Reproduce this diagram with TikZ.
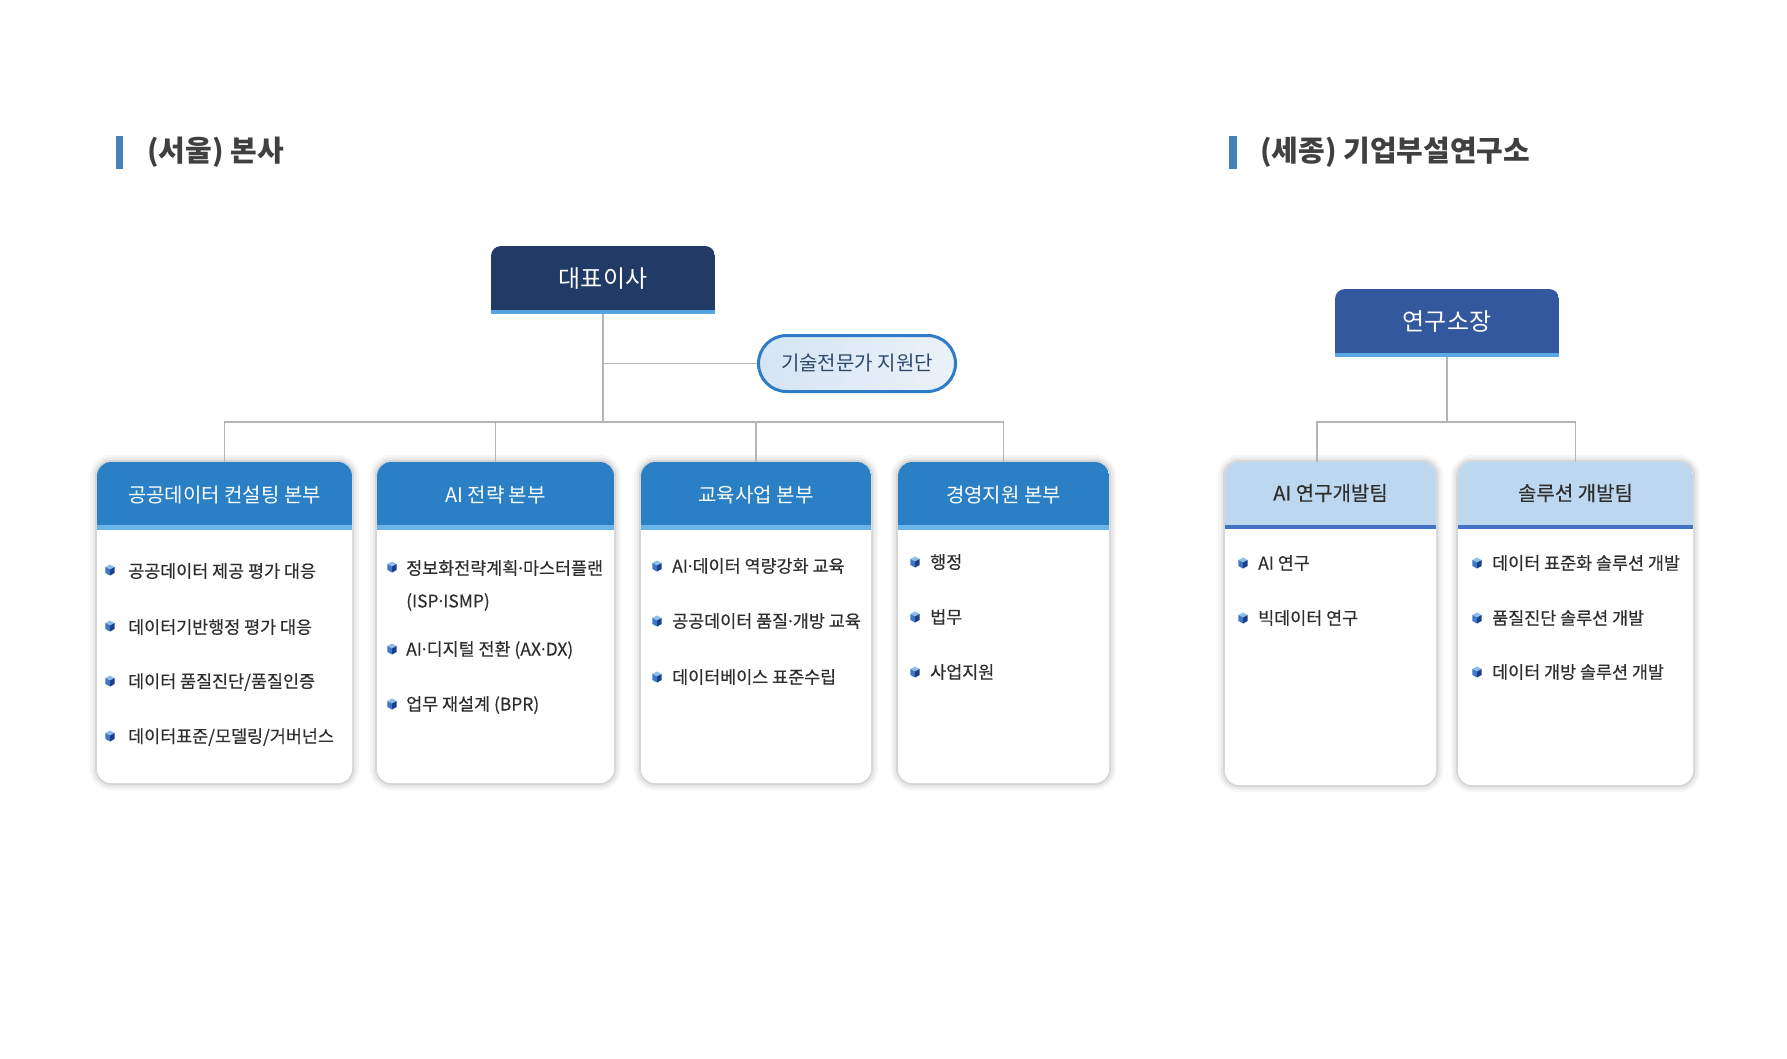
\documentclass[tikz,border=0pt]{standalone}
\usepackage{fontspec}
\setmainfont{Noto Sans CJK KR}
\newfontfamily\medfont{Noto Sans CJK KR}[FakeBold=0.35]
\newcommand\mdot{\kern-2.5pt·\kern-2.5pt}
\definecolor{ceofill}{HTML}{213A66}
\definecolor{ceostripe}{HTML}{55A5E3}
\definecolor{labfill}{HTML}{33589E}
\definecolor{labstripe}{HTML}{5BA8E8}
\definecolor{hdrblue}{HTML}{2B80C5}
\definecolor{hdrstripe}{HTML}{6AB4EC}
\definecolor{teamhdr}{HTML}{BDD7EE}
\definecolor{teamstripe}{HTML}{4472C4}
\definecolor{pillborder}{HTML}{2E7BC8}
\definecolor{pillleft}{HTML}{D5E5F4}
\definecolor{pillright}{HTML}{EBF2F9}
\definecolor{pilltext}{HTML}{2E4A6B}
\definecolor{titlebar}{HTML}{4682BA}
\definecolor{titletext}{HTML}{404040}
\definecolor{txt}{HTML}{2E2E2E}
\definecolor{lineg}{HTML}{B5B5B5}
\definecolor{cubetop}{HTML}{8DBDEB}
\definecolor{cubeleft}{HTML}{3A78C8}
\definecolor{cuberight}{HTML}{1C3F88}
\tikzset{
  conn/.style={draw=lineg, line width=1.5pt},
  cardbox/.style={rectangle, rounded corners=14pt, fill=white, inner sep=0pt, outer sep=0pt,
    preaction={draw=black, draw opacity=0.035, line width=14pt},
    preaction={draw=black, draw opacity=0.05, line width=9pt},
    preaction={draw=black, draw opacity=0.08, line width=4pt}},
  placebox/.style={rectangle, inner sep=0pt, outer sep=0pt},
  hdrtext/.style={text=white, inner sep=0pt, font=\fontsize{20}{24}\selectfont},
  teamtext/.style={text=txt, inner sep=0pt, font=\medfont\fontsize{20}{24}\selectfont},
  toptext/.style={text=white, inner sep=0pt, font=\fontsize{24}{28}\selectfont},
  itemtext/.style={anchor=west, inner sep=0pt, text=txt, font=\medfont\fontsize{17.4}{21}\selectfont},
  titlet/.style={anchor=west, inner sep=0pt, text=titletext, font=\bfseries\fontsize{29}{34}\selectfont},
  pillbox/.style={rectangle, rounded corners=28pt, draw=pillborder, line width=3pt,
    left color=pillleft, right color=pillright, minimum width=197pt, minimum height=56pt,
    inner sep=0pt, text=pilltext, font=\fontsize{20}{24}\selectfont},
  bulletcube/.pic={
    \fill[cubetop] (0pt,5.5pt) -- (4.6pt,3pt) -- (0pt,0.5pt) -- (-4.6pt,3pt) -- cycle;
    \fill[cubeleft] (-4.6pt,3pt) -- (0pt,0.5pt) -- (0pt,-5.5pt) -- (-4.6pt,-3pt) -- cycle;
    \fill[cuberight] (0pt,0.5pt) -- (4.6pt,3pt) -- (4.6pt,-3pt) -- (0pt,-5.5pt) -- cycle;
  }
}
\begin{document}
\begin{tikzpicture}[x=1pt,y=-1pt]
\fill[white] (0,0) rectangle (1787,1058);
\useasboundingbox (0,0) rectangle (1787,1058);

% titles
\fill[titlebar] (116,136) rectangle (123,169);
\node[titlet] (t1) at (147,152) {(서울) 본사};
\fill[titlebar] (1229,136) rectangle (1237,169);
\node[titlet] (t2) at (1260,152) {(세종) 기업부설연구소};

% CEO
\node[placebox, minimum width=224pt, minimum height=68pt] (ceo) at (603,280) {};
\begin{scope}
  \clip[rounded corners=10pt] ([yshift=-20pt]ceo.south west) rectangle (ceo.north east);
  \fill[ceofill] (ceo.south west) rectangle (ceo.north east);
  \fill[ceostripe] (ceo.south west) rectangle ([yshift=4pt]ceo.south east);
\end{scope}
\node[toptext] (ceot) at (603,279) {대표이사};

% support pill
\node[pillbox] (sup) at (857,363.5) {기술전문가 지원단};

% lab head
\node[placebox, minimum width=224pt, minimum height=68pt] (lab) at (1447,323) {};
\begin{scope}
  \clip[rounded corners=10pt] ([yshift=-20pt]lab.south west) rectangle (lab.north east);
  \fill[labfill] (lab.south west) rectangle (lab.north east);
  \fill[labstripe] (lab.south west) rectangle ([yshift=4pt]lab.south east);
\end{scope}
\node[toptext] (labt) at (1447,322) {연구소장};

% cards left
\node[cardbox, minimum width=255pt, minimum height=321pt] (b1) at (224.5,622.5) {};
\node[cardbox, minimum width=237pt, minimum height=321pt] (b2) at (495.5,622.5) {};
\node[cardbox, minimum width=230pt, minimum height=321pt] (b3) at (756,622.5) {};
\node[cardbox, minimum width=211pt, minimum height=321pt] (b4) at (1003.5,622.5) {};
\foreach \b in {b1,b2,b3,b4}{
  \begin{scope}
    \clip[rounded corners=14pt] (\b.south west) rectangle (\b.north east);
    \fill[hdrblue] (\b.north west) rectangle ([yshift=-63pt]\b.north east);
    \fill[hdrstripe] ([yshift=-63pt]\b.north west) rectangle ([yshift=-68pt]\b.north east);
  \end{scope}
}
\node[hdrtext] (h1) at (224.5,495) {공공데이터 컨설팅 본부};
\node[hdrtext] (h2) at (495.5,495) {AI 전략 본부};
\node[hdrtext] (h3) at (756,495) {교육사업 본부};
\node[hdrtext] (h4) at (1003.5,495) {경영지원 본부};

% cards right
\node[cardbox, minimum width=211pt, minimum height=323pt] (r1) at (1330.5,623.5) {};
\node[cardbox, minimum width=235pt, minimum height=323pt] (r2) at (1575.5,623.5) {};
\foreach \b in {r1,r2}{
  \begin{scope}
    \clip[rounded corners=14pt] (\b.south west) rectangle (\b.north east);
    \fill[teamhdr] (\b.north west) rectangle ([yshift=-63pt]\b.north east);
    \fill[teamstripe] ([yshift=-63pt]\b.north west) rectangle ([yshift=-67pt]\b.north east);
  \end{scope}
}
\node[teamtext] (h5) at (1330.5,493) {AI 연구개발팀};
\node[teamtext] (h6) at (1575.5,493) {솔루션 개발팀};

% items box1
\pic at (110,570) {bulletcube};
\node[itemtext] (i11) at (128,571) {공공데이터 제공 평가 대응};
\pic at (110,626) {bulletcube};
\node[itemtext] (i12) at (128,627) {데이터기반행정 평가 대응};
\pic at (110,681) {bulletcube};
\node[itemtext] (i13) at (128,682) {데이터 품질진단/품질인증};
\pic at (110,736) {bulletcube};
\node[itemtext] (i14) at (128,737) {데이터표준/모델링/거버넌스};

% items box2
\pic at (392,567) {bulletcube};
\node[itemtext] (i21) at (406,568) {정보화전략계획\mdot 마스터플랜};
\node[itemtext] (i21b) at (406,602) {(ISP\mdot ISMP)};
\pic at (392,649) {bulletcube};
\node[itemtext] (i22) at (406,650) {AI\mdot 디지털 전환 (AX\mdot DX)};
\pic at (392,704) {bulletcube};
\node[itemtext] (i23) at (406,705) {업무 재설계 (BPR)};

% items box3
\pic at (657,566) {bulletcube};
\node[itemtext] (i31) at (672,566) {AI\mdot 데이터 역량강화 교육};
\pic at (657,621) {bulletcube};
\node[itemtext] (i32) at (672,621) {공공데이터 품질\mdot 개방 교육};
\pic at (657,677) {bulletcube};
\node[itemtext] (i33) at (672,677) {데이터베이스 표준수립};

% items box4
\pic at (915,562) {bulletcube};
\node[itemtext] (i41) at (930,562) {행정};
\pic at (915,617) {bulletcube};
\node[itemtext] (i42) at (930,617) {법무};
\pic at (915,672) {bulletcube};
\node[itemtext] (i43) at (930,672) {사업지원};

% items r1
\pic at (1243,563) {bulletcube};
\node[itemtext] (i51) at (1258,563) {AI 연구};
\pic at (1243,618) {bulletcube};
\node[itemtext] (i52) at (1258,618) {빅데이터 연구};

% items r2
\pic at (1477,563) {bulletcube};
\node[itemtext] (i61) at (1492,563) {데이터 표준화 솔루션 개발};
\pic at (1477,618) {bulletcube};
\node[itemtext] (i62) at (1492,618) {품질진단 솔루션 개발};
\pic at (1477,672) {bulletcube};
\node[itemtext] (i63) at (1492,672) {데이터 개방 솔루션 개발};

% connectors left
\coordinate (busL) at (603,422);
\draw[conn] (ceo.south) -- (busL);
\draw[conn] (ceo.south |- sup.west) -- (sup.west);
\draw[conn] (b1.north) -- (b1.north |- busL) -- (b4.north |- busL) -- (b4.north);
\draw[conn] (b2.north) -- (b2.north |- busL);
\draw[conn] (b3.north) -- (b3.north |- busL);

% connectors right
\coordinate (busR) at (1447,422);
\coordinate (r1in) at ([xshift=-13.5pt]r1.north);
\draw[conn] (lab.south) -- (busR);
\draw[conn] (r1in) -- (r1in |- busR) -- (r2.north |- busR) -- (r2.north);
\end{tikzpicture}
\end{document}
